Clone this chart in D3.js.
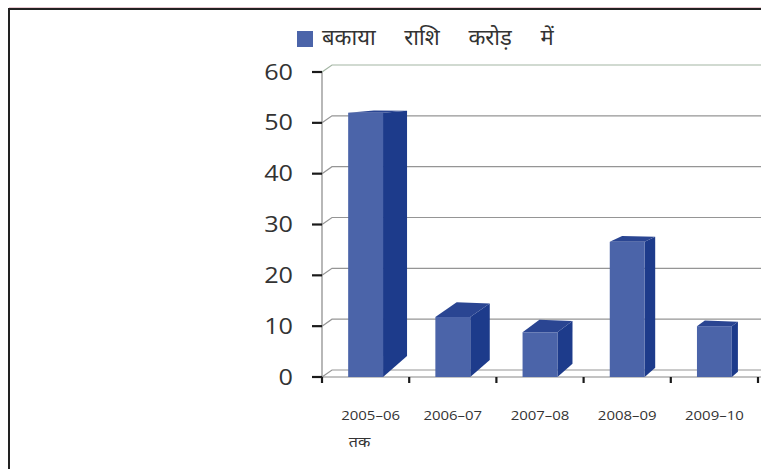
<!DOCTYPE html>
<html>
<head>
<meta charset="utf-8">
<script src="https://cdn.jsdelivr.net/npm/d3@7"></script>
<style>
html,body{margin:0;padding:0;background:#fff;}
svg{display:block;}
</style>
</head>
<body>
<svg id="chart" width="761" height="469"></svg>
<script>
// ---- data ----
const categories = ["2005–06|तक", "2006–07", "2007–08", "2008–09", "2009–10"];
const values = [52, 11.8, 8.8, 26.6, 10];
const yTicks = [0, 10, 20, 30, 40, 50, 60];
const legendLabel = "बकाया राशि करोड़ में";

const W = 761, H = 469;
const svg = d3.select("#chart");

const x = d3.scaleBand().domain(categories).range([322, 758]).padding(0);
const y = d3.scaleLinear().domain([0, 60]).range([377, 72]);

const wall = {dx: 10, dy: -7};
// pseudo-perspective for bar depth
const dxAt = px => 0.0514 * (850 - px);
const back = (px, py) => [px + dxAt(px), py + dxAt(px) * 0.003 * (85 - py)];

// frame
svg.append("path").attr("d", `M9,${H} L9,9 L${W},9`)
  .attr("fill", "none").attr("stroke", "#222").attr("stroke-width", 2);
svg.append("line").attr("x1", 9).attr("x2", W).attr("y1", 7.5).attr("y2", 7.5)
  .attr("stroke", "#e8c8d0").attr("stroke-width", 1);

// back wall gridlines
const grid = svg.append("g");
yTicks.forEach(t => {
  const yy = y(t);
  grid.append("path")
    .attr("d", `M${x.range()[0]},${yy} L${x.range()[0] + wall.dx},${yy + wall.dy} L${W},${yy + wall.dy}`)
    .attr("fill", "none")
    .attr("stroke", t === 60 ? "#a3b5a3" : "#959595")
    .attr("stroke-width", 1.2);
});
// axis line (vertical) and floor front line
svg.append("line").attr("x1", 322).attr("x2", 322).attr("y1", y(60)).attr("y2", y(0))
  .attr("stroke", "#888").attr("stroke-width", 1.2);
svg.append("line").attr("x1", 322).attr("x2", W).attr("y1", y(0)).attr("y2", y(0))
  .attr("stroke", "#888").attr("stroke-width", 1.2);

// y ticks and labels
const yAx = svg.append("g");
yTicks.forEach(t => {
  yAx.append("line").attr("x1", 312).attr("x2", 322).attr("y1", y(t)).attr("y2", y(t))
    .attr("stroke", "#1a1a1a").attr("stroke-width", 2.2);
  yAx.append("text")
    .attr("transform", `translate(293,${y(t)}) scale(1.2,1)`)
    .attr("text-anchor", "end").attr("dy", "0.36em")
    .attr("font-family", "'Open Sans', sans-serif").attr("font-size", 21)
    .attr("fill", "#333").text(t);
});

// x ticks
const xAx = svg.append("g");
const bounds = categories.map(c => x(c)).concat([x.range()[1]]);
bounds.forEach(b => {
  xAx.append("line").attr("x1", b).attr("x2", b).attr("y1", y(0)).attr("y2", y(0) + 6)
    .attr("stroke", "#1a1a1a").attr("stroke-width", 2.2);
});
categories.forEach(c => {
  const lines = c.split("|");
  const cx = x(c) + x.bandwidth() / 2;
  lines.forEach((ln, i) => {
    xAx.append("text")
      .attr("transform", `translate(${cx + (lines.length > 1 ? (i === 0 ? 5 : -6) : 0)},${420 + i * 27}) scale(1.15,1)`)
      .attr("text-anchor", "middle")
      .attr("font-family", i === 0 ? "'Open Sans', sans-serif" : "'Noto Sans Devanagari','Lohit Devanagari','Noto Sans',sans-serif")
      .attr("font-size", i === 0 ? 13 : 14)
      .attr("fill", "#333").text(ln);
  });
});

// bars
const bars = svg.append("g");
const frontCol = "#4b64a9", sideCol = "#1d3b8b", topCol = "#2a4592";
categories.forEach((c, i) => {
  const bw = x.bandwidth() * 0.4;
  const x0 = x(c) + (x.bandwidth() - bw) / 2, x1 = x0 + bw;
  const yt = y(values[i]), yb = y(0);
  const br_t = back(x1, yt), br_b = back(x1, yb), bl_t = back(x0, yt);
  bars.append("path")
    .attr("d", `M${x1},${yt} L${br_t[0]},${br_t[1]} L${br_b[0]},${br_b[1]} L${x1},${yb} Z`)
    .attr("fill", sideCol);
  bars.append("path")
    .attr("d", `M${x0},${yt} L${bl_t[0]},${bl_t[1]} L${br_t[0]},${br_t[1]} L${x1},${yt} Z`)
    .attr("fill", topCol);
  bars.append("rect").attr("x", x0).attr("y", yt).attr("width", bw).attr("height", yb - yt)
    .attr("fill", frontCol);
});

// legend
const lg = svg.append("g");
lg.append("rect").attr("x", 297).attr("y", 31).attr("width", 16).attr("height", 16)
  .attr("fill", "#4b64a9");
lg.append("text").attr("x", 322).attr("y", 45)
  .attr("font-family", "'Noto Sans Devanagari','Lohit Devanagari','Noto Sans',sans-serif")
  .attr("font-size", 22).attr("word-spacing", 23).attr("fill", "#333")
  .text(legendLabel);
</script>
</body>
</html>
